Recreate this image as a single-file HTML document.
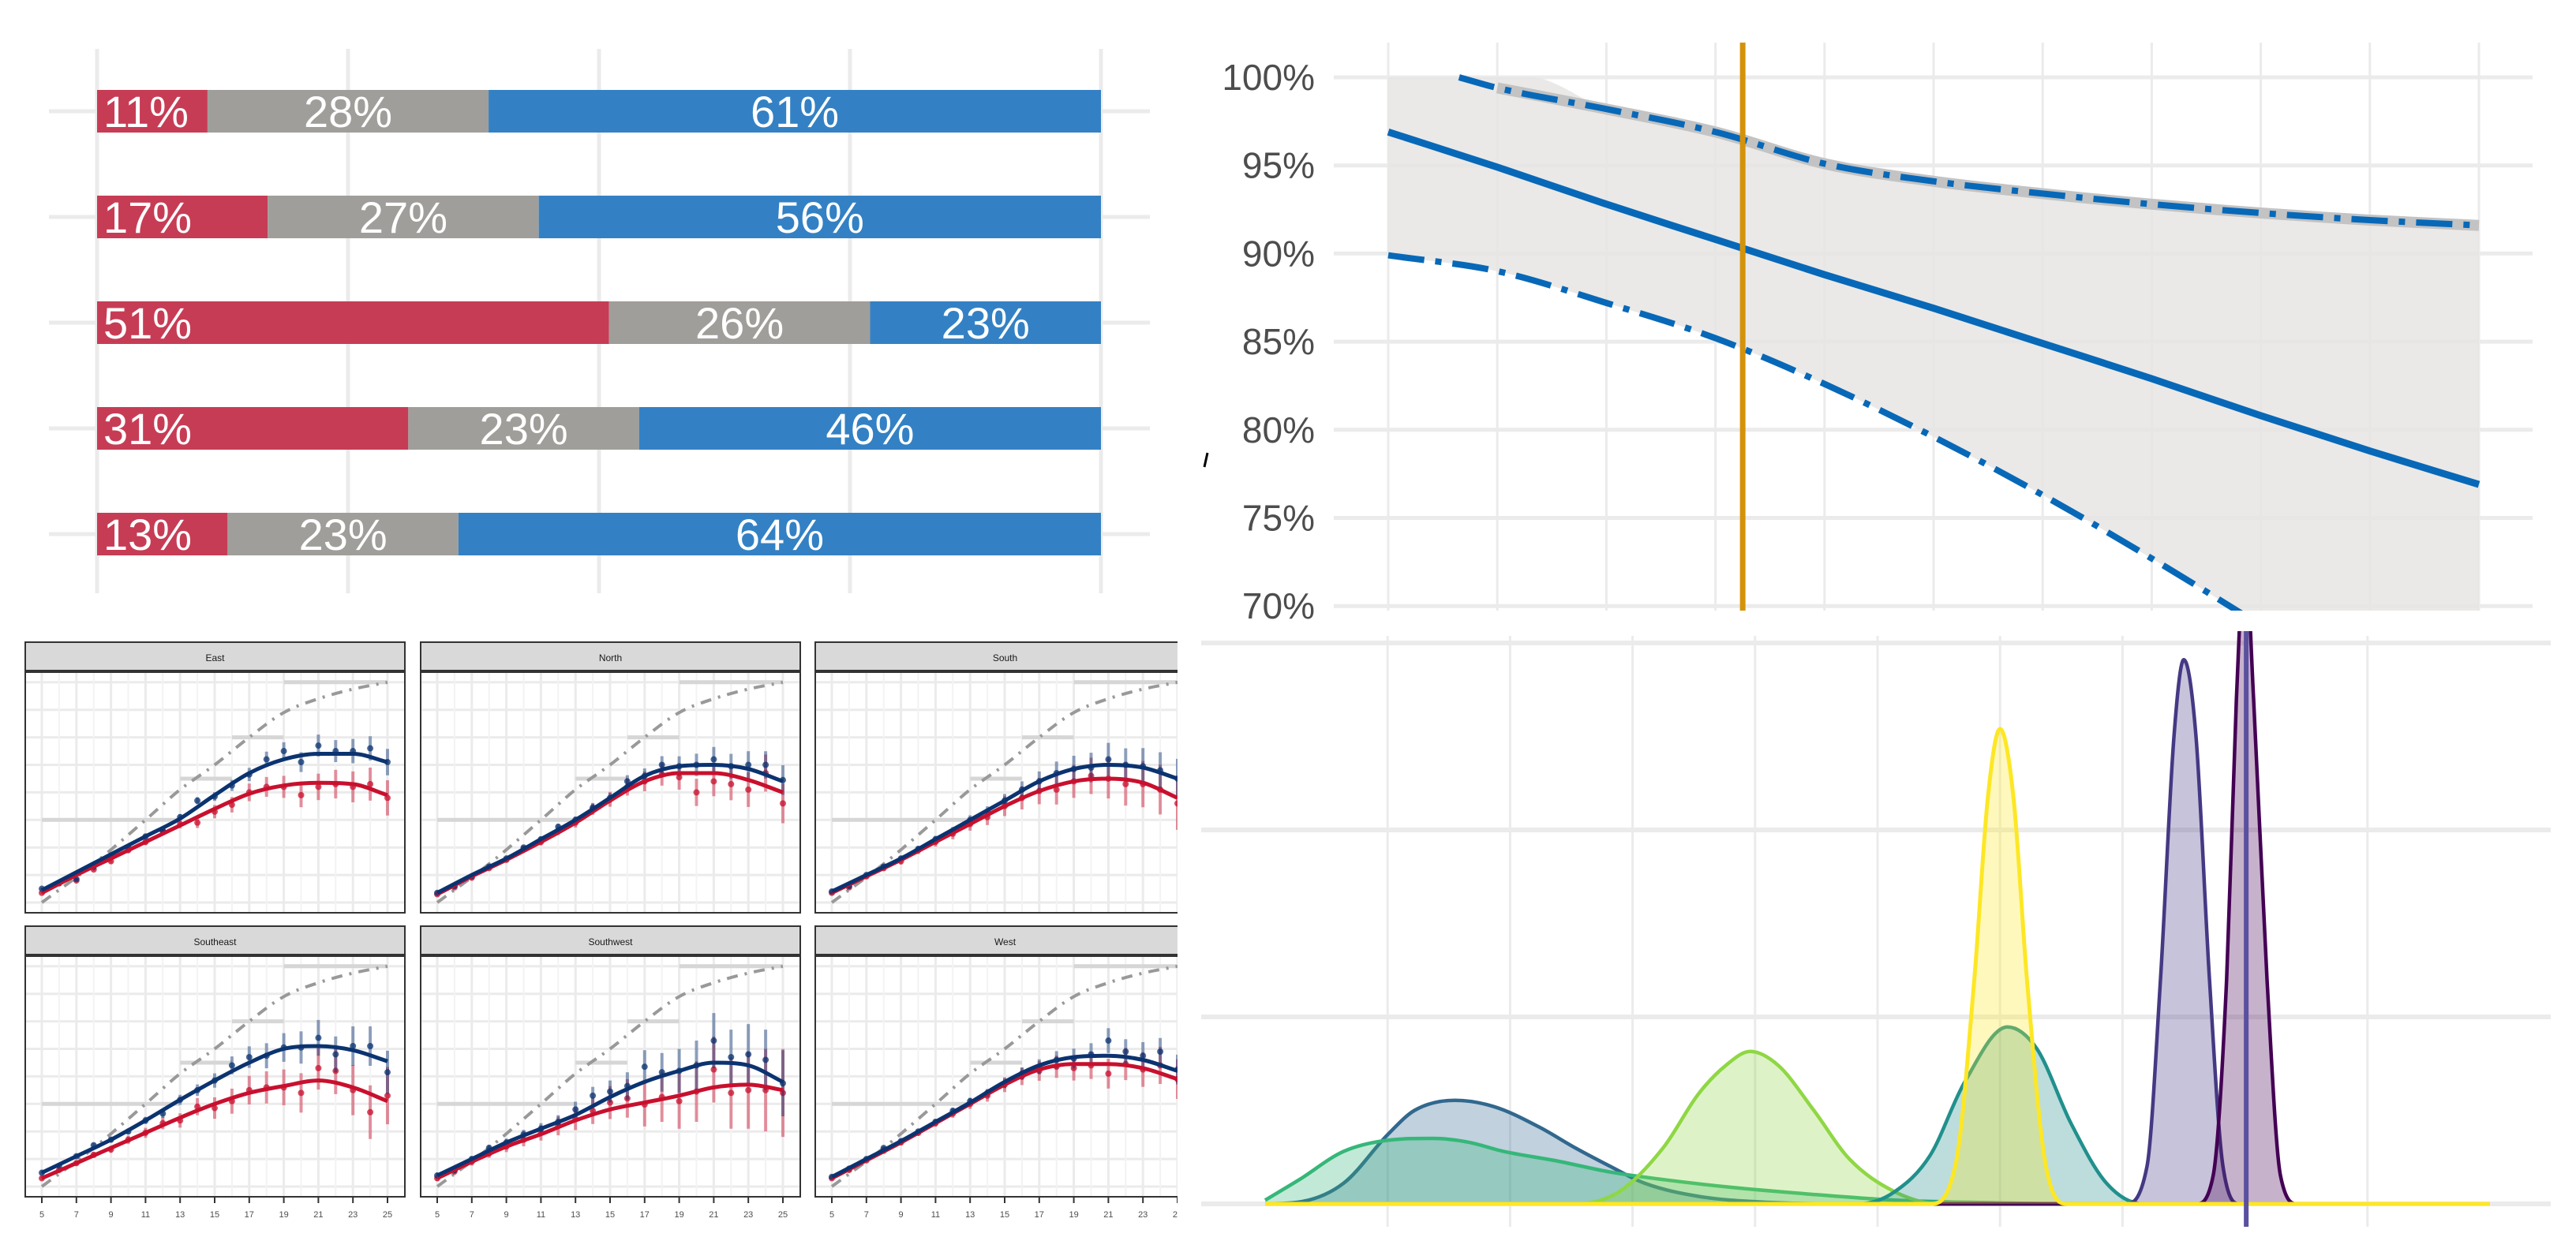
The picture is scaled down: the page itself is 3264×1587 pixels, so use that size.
<!DOCTYPE html>
<html><head><meta charset="utf-8"><title>Chart collage</title>
<style>
html,body{margin:0;padding:0;background:#fff;}
svg{display:block;font-family:"Liberation Sans",Arial,sans-serif;}
</style></head>
<body>
<svg id="chart" xmlns="http://www.w3.org/2000/svg" width="3264" height="1587" viewBox="0 0 3264 1587">
<rect x="0" y="0" width="3264" height="1587" fill="#ffffff"/>
<defs>
<clipPath id="trClip"><rect x="1690" y="40" width="1530" height="734"/></clipPath>
<clipPath id="dnClip"><rect x="1500" y="800" width="1764" height="787"/></clipPath>
</defs>
<g id="facets"></g>
<rect x="1492" y="782" width="1772" height="805" fill="#ffffff"/>
<g id="bars"></g>
<rect x="1458" y="0" width="1806" height="780" fill="#ffffff"/>
<g id="tr"></g>
<g id="dens"></g>
</svg>
<script>
// ---------- DATA ----------
const barCategories = ['row-1','row-2','row-3','row-4','row-5'];
const redValues = [11,17,51,31,13];
const grayValues = [28,27,26,23,23];
const blueValues = [61,56,23,46,64];
const barGridTicks = [0,25,50,75,100];

const trXTicks = [0,1,2,3,4,5,6,7,8,9,10];
const trYTicks = [100,95,90,85,80,75,70];
const trYLabels = ['100%','95%','90%','85%','80%','75%','70%'];
const solidX = [0,1,2,3,4,5,6,7,8,9,10];
const solidY = [96.9,94.9,92.8,90.8,88.8,86.9,84.9,82.9,80.8,78.8,76.9];
const upperX = [0.65,1,2,3,4,5,6,7,8,9,10];
const upperY = [100,99.4,98.2,96.9,95.1,94.1,93.4,92.8,92.3,91.9,91.6];
const bandTopX = [0,1.3,2,3,4,5,6,7,8,9,10];
const bandTopY = [100,100,98.2,96.9,95.1,94.1,93.4,92.8,92.3,91.9,91.6];
const lowerX = [0,1,2,3,4,5,6,7,8,9,10];
const lowerY = [89.9,89.0,87.2,85.2,82.6,79.6,76.3,72.7,68.9,65.0,61.0];
const markerX = 3.25;

const panelNames = ['East','North','South','Southeast','Southwest','West'];
const curveX = [5,7,9,11,13,15,17,19,21,23,25];
const blueCurves = [
 [0.45,1.1,1.75,2.4,3.05,3.9,4.7,5.2,5.4,5.4,5.1],
 [0.35,1.0,1.6,2.3,3.0,3.8,4.6,4.95,5.0,4.85,4.4],
 [0.4,1.0,1.6,2.3,3.0,3.7,4.4,4.85,5.0,4.9,4.5],
 [0.5,1.1,1.7,2.4,3.15,3.85,4.5,5.0,5.1,4.95,4.55],
 [0.4,1.0,1.6,2.1,2.6,3.25,3.8,4.2,4.5,4.4,3.8],
 [0.35,1.0,1.65,2.35,3.05,3.8,4.4,4.7,4.75,4.6,4.2]];
const redCurves = [
 [0.35,1.0,1.6,2.2,2.8,3.4,3.95,4.25,4.35,4.3,3.9],
 [0.3,0.95,1.55,2.2,2.9,3.7,4.4,4.7,4.7,4.45,4.0],
 [0.35,0.95,1.55,2.2,2.85,3.5,4.05,4.4,4.5,4.35,3.8],
 [0.3,0.85,1.4,1.95,2.5,3.0,3.4,3.65,3.85,3.6,3.1],
 [0.3,0.9,1.45,1.9,2.4,2.8,3.05,3.3,3.6,3.7,3.5],
 [0.3,0.95,1.6,2.3,3.0,3.7,4.25,4.45,4.45,4.3,3.9]];
const pointX = [5,6,7,8,9,10,11,12,13,14,15,16,17,18,19,20,21,22,23,24,25];
const bluePoints = [
 [0.5,0.7,0.85,1.3,1.7,2.0,2.4,2.6,3.1,3.7,3.85,4.25,4.65,5.2,5.5,5.1,5.7,5.5,5.5,5.6,5.1],
 [0.35,0.6,0.95,1.3,1.6,2.0,2.3,2.75,3.0,3.45,3.8,4.4,4.6,5.0,4.95,5.0,5.2,4.95,5.0,5.0,4.45],
 [0.4,0.6,1.0,1.3,1.6,1.95,2.3,2.6,3.0,3.3,3.7,4.1,4.4,4.7,4.85,4.9,5.2,5.0,4.95,4.8,4.5],
 [0.5,0.75,1.1,1.5,1.7,2.0,2.4,2.65,3.15,3.5,3.85,4.4,4.7,4.75,5.05,5.05,5.4,4.8,5.1,5.1,4.15],
 [0.4,0.6,1.0,1.4,1.6,1.9,2.1,2.35,2.8,3.3,3.45,3.65,4.35,4.15,4.2,4.4,5.3,4.7,4.8,4.6,3.75],
 [0.35,0.65,1.0,1.4,1.65,2.0,2.35,2.75,3.1,3.4,3.75,4.1,4.35,4.6,4.65,4.8,5.3,4.9,4.75,4.9,4.25]];
const redPoints = [
 [0.35,0.7,0.8,1.2,1.5,1.9,2.2,2.6,2.85,2.9,3.3,3.55,4.0,4.2,4.2,3.9,4.2,4.3,4.2,4.3,3.8],
 [0.3,0.55,0.9,1.25,1.55,1.95,2.2,2.6,2.9,3.4,3.75,4.2,4.4,4.65,4.55,4.0,4.4,4.3,4.1,4.7,3.6],
 [0.35,0.55,0.95,1.25,1.5,1.9,2.2,2.5,2.85,3.1,3.5,3.8,4.05,4.1,4.4,4.6,4.5,4.3,4.3,4.1,3.6],
 [0.3,0.6,0.85,1.15,1.35,1.7,1.95,2.3,2.4,2.9,2.85,3.1,3.5,3.6,3.6,3.4,4.3,4.2,3.5,2.7,3.3],
 [0.3,0.55,0.9,1.2,1.45,1.7,1.95,2.2,2.45,2.75,3.05,3.2,2.98,3.25,3.1,3.45,4.25,3.4,3.5,3.5,3.4],
 [0.3,0.6,0.95,1.3,1.6,1.95,2.3,2.65,3.0,3.3,3.7,4.0,4.2,4.35,4.3,4.4,4.1,4.45,4.25,4.4,3.9]];
const blueErr = [0.05,0.05,0.05,0.06,0.07,0.08,0.1,0.12,0.14,0.16,0.2,0.25,0.3,0.35,0.4,0.45,0.5,0.5,0.55,0.55,0.6];
const redErr = [0.05,0.06,0.07,0.08,0.1,0.12,0.14,0.17,0.2,0.24,0.3,0.35,0.4,0.45,0.5,0.55,0.6,0.65,0.7,0.75,0.8];
const panelErrScale = [0.8,0.9,1.2,1.3,2.0,0.9];
const refX = [5,8,11,13,15,17,19,21,23,25];
const refY = [0,1.4,3.0,4.1,5.0,6.0,6.9,7.4,7.75,8.0];
const stepStart = [5,13,16,19];
const stepEnd = [13,16,19,25];
const stepLevel = [3,4.5,6,8];
const facetXTicks = [5,7,9,11,13,15,17,19,21,23,25];
const facetXMinor = [6,8,10,12,14,16,18,20,22,24];
const facetYGrid = [0,1,2,3,4,5,6,7,8];

const densNames = ['density-dark-blue','density-green','density-light-green','density-teal','density-violet','density-purple','density-yellow'];
const densColors = ['#31688e','#35b779','#8fd744','#21908c','#443983','#440154','#fde725'];
const densX = [
 [0,0.28,0.64,1.0,1.22,1.55,1.87,2.24,2.53,2.82,3.1,3.54,4.05,4.77,10],
 [0,0.28,0.64,1.0,1.37,1.66,1.95,2.38,2.82,3.25,3.83,4.41,5.14,5.86,6.58,10],
 [0,2.53,2.89,3.25,3.54,3.76,3.96,4.19,4.48,4.77,5.14,5.5,10],
 [0,4.85,5.14,5.43,5.71,6.06,6.3,6.58,6.87,7.17,10],
 [0,7.02,7.2,7.31,7.42,7.5,7.6,7.71,7.82,7.96,10],
 [0,7.6,7.74,7.85,7.93,8.0,8.07,8.18,8.29,8.43,10],
 [0,5.43,5.64,5.79,5.9,6.0,6.11,6.22,6.37,6.55,10]];
const densY = [
 [0,0.01,0.11,0.37,0.5,0.554,0.52,0.41,0.3,0.2,0.11,0.04,0.01,0,0],
 [0.02,0.13,0.28,0.34,0.35,0.33,0.28,0.23,0.17,0.13,0.087,0.054,0.02,0.007,0,0],
 [0,0,0.065,0.3,0.59,0.74,0.815,0.74,0.5,0.24,0.065,0,0],
 [0,0,0.065,0.26,0.65,0.946,0.83,0.43,0.11,0,0],
 [0,0,0.2,1.2,2.5,2.91,2.5,1.2,0.2,0,0],
 [0,0,0.15,1.2,2.7,3.5,2.7,1.2,0.15,0,0],
 [0,0,0.22,1.2,2.17,2.54,2.17,1.2,0.22,0,0]];
const densXGrid = [1,2,3,4,5,6,7,8,9];
const densYGrid = [0,1,2,3];
const densMarker = 8.01;

// ---------- HELPERS ----------
const NS='http://www.w3.org/2000/svg';
function mk(tag,attrs,parent){const e=document.createElementNS(NS,tag);for(const k in attrs)e.setAttribute(k,attrs[k]);parent.appendChild(e);return e;}
function monoPath(px,py){
  const n=px.length; if(n<2) return '';
  const d=[],m=new Array(n);
  for(let i=0;i<n-1;i++) d.push((py[i+1]-py[i])/(px[i+1]-px[i]));
  m[0]=d[0]; m[n-1]=d[n-2];
  for(let i=1;i<n-1;i++){ m[i]=(d[i-1]*d[i]<=0)?0:(d[i-1]+d[i])/2; }
  for(let i=0;i<n-1;i++){ if(d[i]===0){m[i]=0;m[i+1]=0;continue;} const a=m[i]/d[i],b=m[i+1]/d[i],s=a*a+b*b; if(s>9){const t=3/Math.sqrt(s);m[i]=t*a*d[i];m[i+1]=t*b*d[i];} }
  let p='M'+px[0].toFixed(1)+','+py[0].toFixed(1);
  for(let i=0;i<n-1;i++){const h=(px[i+1]-px[i])/3;
    p+=' C'+(px[i]+h).toFixed(1)+','+(py[i]+m[i]*h).toFixed(1)+' '+(px[i+1]-h).toFixed(1)+','+(py[i+1]-m[i+1]*h).toFixed(1)+' '+px[i+1].toFixed(1)+','+py[i+1].toFixed(1);}
  return p;
}

// ---------- STACKED BARS ----------
(function(){
  const g=document.getElementById('bars');
  const bx=v=>123+v*12.72, by=i=>141+i*134, bh=54;
  barGridTicks.forEach(t=>{const l=mk('line',{x1:bx(t),x2:bx(t),y1:62,y2:752,stroke:'#ebebeb','stroke-width':5},g);
    
    });
  barCategories.forEach((c,i)=>{const l=mk('line',{x1:62,x2:1457,y1:by(i),y2:by(i),stroke:'#ebebeb','stroke-width':5},g);
    
    });
  barCategories.forEach((c,i)=>{
    const segs=[[redValues[i],'#c73c55','red'],[grayValues[i],'#a09e9a','gray'],[blueValues[i],'#3381c4','blue']];
    let acc=0;
    segs.forEach((s,k)=>{
      const x0=bx(acc),x1=bx(acc+s[0]);
      const r=mk('rect',{x:x0,y:by(i)-bh/2,width:x1-x0,height:bh,fill:s[1]},g);
      
      
      const t=mk('text',{x:k===0?x0+8:(x0+x1)/2,y:by(i)+20,'font-size':56,fill:'#ffffff','text-anchor':k===0?'start':'middle'},g);
      t.textContent=s[0]+'%';
      
      
      acc+=s[0];
    });
  });
})();

// ---------- INTERVAL LINE CHART ----------
(function(){
  const g=document.getElementById('tr');
  const X=v=>1759+v*138.2, Y=v=>98+(100-v)*22.34;
  trYTicks.forEach((t,i)=>{
    const l=mk('line',{x1:1690,x2:3209,y1:Y(t),y2:Y(t),stroke:'#ebebeb','stroke-width':5},g);
    
    
    const tx=mk('text',{x:1666,y:Y(t)+16,'font-size':46,fill:'#4d4d4d','text-anchor':'end'},g);
    tx.textContent=trYLabels[i];
    
    
  });
  trXTicks.forEach(t=>{const l=mk('line',{x1:X(t),x2:X(t),y1:54,y2:774,stroke:'#ebebeb','stroke-width':3},g);
    
    });
  const cg=mk('g',{'clip-path':'url(#trClip)'},g);
  
  
  const top=monoPath(bandTopX.map(X),bandTopY.map(Y));
  let low=monoPath(lowerX.slice().reverse().map(X),lowerY.slice().reverse().map(Y)).replace('M','L');
  const band=mk('path',{d:top+' '+low+' Z',fill:'#e6e5e3','fill-opacity':0.85},cg);
  
  
  const gl=mk('path',{d:monoPath(upperX.slice(1).map(X),upperY.slice(1).map(Y)),fill:'none',stroke:'#c3c3c3','stroke-width':14},cg);
  
  
  const ul=mk('path',{d:monoPath(upperX.map(X),upperY.map(Y)),fill:'none',stroke:'#0868b8','stroke-width':8,'stroke-dasharray':'46 14 8 14'},cg);
  
  
  const ll=mk('path',{d:monoPath(lowerX.map(X),lowerY.map(Y)),fill:'none',stroke:'#0868b8','stroke-width':8,'stroke-dasharray':'46 14 8 14'},cg);
  
  
  const sl=mk('path',{d:monoPath(solidX.map(X),solidY.map(Y)),fill:'none',stroke:'#0868b8','stroke-width':9},cg);
  
  
  const vl=mk('line',{x1:X(markerX),x2:X(markerX),y1:54,y2:774,stroke:'#d4920a','stroke-width':7},cg);
  
  
  const tick=mk('line',{x1:1530,y1:574,x2:1526,y2:592,stroke:'#000','stroke-width':3},g);
  
  
})();

// ---------- FACETS ----------
(function(){
  const g=document.getElementById('facets');
  const colLeft=[32,533,1033], stripTop=[814,1174], W=481, SH=37, PH=306;
  panelNames.forEach((name,p)=>{
    const c=p%3, r=Math.floor(p/3), L=colLeft[c], T=stripTop[r]+SH;
    const fx=x=>L+21+(x-5)*21.9, fy=v=>T+293-v*34.9;
    const pg=mk('g',{},g);
    
    
    const st=mk('rect',{x:L,y:stripTop[r],width:W,height:SH,fill:'#d9d9d9',stroke:'#333','stroke-width':2},pg);
    
    
    const stt=mk('text',{x:L+W/2,y:stripTop[r]+24,'font-size':12,fill:'#1a1a1a','text-anchor':'middle'},pg);
    stt.textContent=name;
    
    
    const bg=mk('rect',{x:L,y:T,width:W,height:PH,fill:'#fff',stroke:'#333','stroke-width':2},pg);
    
    
    const sb=mk('line',{x1:L,x2:L+W,y1:T,y2:T,stroke:'#333','stroke-width':4},pg);
    
    
    facetYGrid.forEach(v=>{const l=mk('line',{x1:L+1,x2:L+W-1,y1:fy(v),y2:fy(v),stroke:'#ebebeb','stroke-width':3},pg);
      
      });
    facetXMinor.forEach(v=>{const l=mk('line',{x1:fx(v),x2:fx(v),y1:T+2,y2:T+PH-1,stroke:'#f3f3f3','stroke-width':2},pg);
      
      });
    facetXTicks.forEach(v=>{const l=mk('line',{x1:fx(v),x2:fx(v),y1:T+2,y2:T+PH-1,stroke:'#ebebeb','stroke-width':3},pg);
      
      });
    stepLevel.forEach((lv,k)=>{const l=mk('line',{x1:fx(stepStart[k]),x2:fx(stepEnd[k]),y1:fy(lv),y2:fy(lv),stroke:'#d6d6d6','stroke-width':5},pg);
      
      });
    const rl=mk('path',{d:monoPath(refX.map(fx),refY.map(fy)),fill:'none',stroke:'#999','stroke-width':4,'stroke-dasharray':'14 9 3 9'},pg);
    
    
    [[redPoints[p],redErr,'#c8102e','red'],[bluePoints[p],blueErr,'#0b3370','blue']].forEach(s=>{
      s[0].forEach((v,i)=>{
        const e=s[1][i]*panelErrScale[p];
        const eb=mk('line',{x1:fx(pointX[i]),x2:fx(pointX[i]),y1:fy(v-e),y2:fy(v+e),stroke:s[2],'stroke-opacity':0.45,'stroke-width':4},pg);
        
        
        const pt=mk('circle',{cx:fx(pointX[i]),cy:fy(v),r:4,fill:s[2],'fill-opacity':0.75},pg);
        
        
      });
    });
    const rc=mk('path',{d:monoPath(curveX.map(fx),redCurves[p].map(fy)),fill:'none',stroke:'#c8102e','stroke-width':5},pg);
    
    
    const bc=mk('path',{d:monoPath(curveX.map(fx),blueCurves[p].map(fy)),fill:'none',stroke:'#0b3370','stroke-width':5},pg);
    
    
    if(r===1){
      facetXTicks.forEach(v=>{
        const tk=mk('line',{x1:fx(v),x2:fx(v),y1:T+PH,y2:T+PH+8,stroke:'#333','stroke-width':2},pg);
        
        
        const tl=mk('text',{x:fx(v),y:T+PH+26,'font-size':11,fill:'#4d4d4d','text-anchor':'middle'},pg);
        tl.textContent=v;
        
        
      });
    }
  });
})();

// ---------- DENSITIES ----------
(function(){
  const g=document.getElementById('dens');
  const X=v=>1603+v*155.2, Y=v=>1526-v*237;
  densYGrid.forEach(v=>{const l=mk('line',{x1:1522,x2:3232,y1:Y(v),y2:Y(v),stroke:'#ebebeb','stroke-width':6},g);
    
    });
  densXGrid.forEach(v=>{const l=mk('line',{x1:X(v),x2:X(v),y1:806,y2:1555,stroke:'#ebebeb','stroke-width':3},g);
    
    });
  const cg=mk('g',{'clip-path':'url(#dnClip)'},g);
  
  
  densNames.forEach((n,i)=>{
    const px=densX[i].map(X), py=densY[i].map(Y);
    const line=monoPath(px,py);
    const a=mk('path',{d:line+' L'+px[px.length-1]+','+Y(0)+' L'+px[0]+','+Y(0)+' Z',fill:densColors[i],'fill-opacity':0.3,stroke:'none'},cg);
    
    
    const l=mk('path',{d:line,fill:'none',stroke:densColors[i],'stroke-width':n==='density-yellow'?5:4.5},cg);
    
    
  });
  const m=mk('line',{x1:X(densMarker),x2:X(densMarker),y1:800,y2:1555,stroke:'#5a50a0','stroke-width':6},g);
  
  
})();
</script>
</body></html>
